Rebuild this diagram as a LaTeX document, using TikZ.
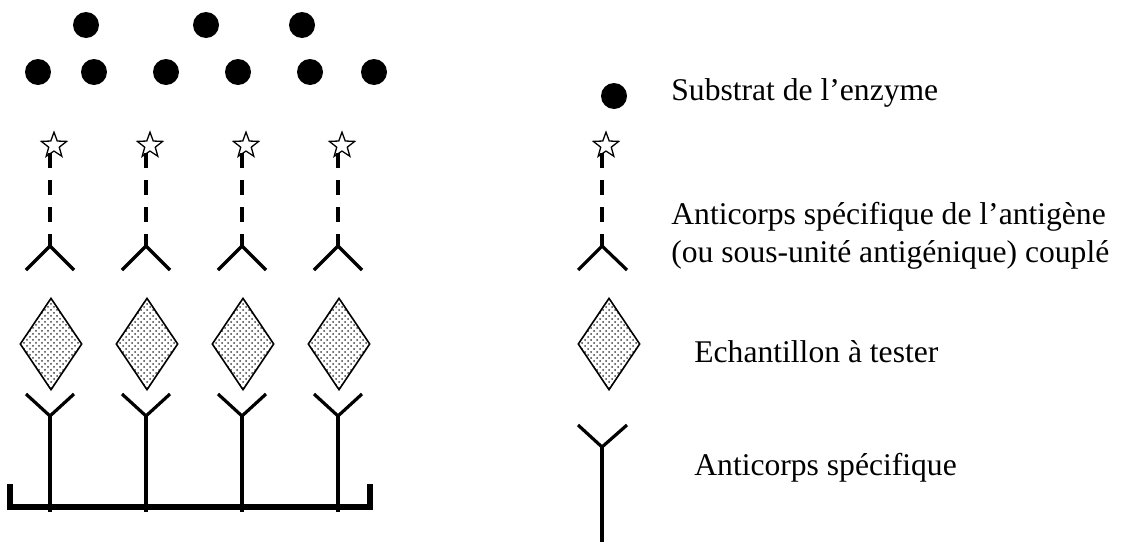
\documentclass[tikz,border=0pt]{standalone}
\usepackage{fontspec}
\setmainfont{Liberation Serif}
\usetikzlibrary{shapes.geometric,patterns}
\begin{document}
\begin{tikzpicture}[x=0.5pt,y=-0.5pt,
  substrat/.style={circle,fill=black,inner sep=0pt,minimum size=13pt},
  enz/.style={star,star points=5,star point ratio=2.4,draw=black,line width=0.65pt,fill=white,inner sep=0pt,minimum size=13.3pt},
  link/.style={line width=2pt,dash pattern=on 7.5pt off 6pt},
  arm/.style={line width=1.6pt},
  stem/.style={line width=2pt},
  ech/.style={diamond,draw=black,line width=0.8pt,pattern=crosshatch dots,pattern color=black!75,inner sep=0pt,minimum width=31pt,minimum height=46pt},
  lbl/.style={anchor=base west,inner sep=0pt,font=\fontsize{15.8pt}{18.5pt}\selectfont,align=left}]
\useasboundingbox (0,0) rectangle (1124,541);
% substrate
\foreach \n/\x/\y in {a/86/25,b/206/25,c/302/25,d/38/72,e/94/72,f/166/72,g/238/72,h/310/72,i/374/72}
  \node[substrat] (s\n) at (\x,\y) {};
% columns
\foreach \k/\x in {1/50,2/146,3/242,4/338}{
  \node[enz] (st\k) at (\x+4,145.5) {};
  \coordinate (lt\k) at (\x,153);
  \coordinate (ua\k) at (\x,246);
  \coordinate (ul\k) at (\x-24,270);
  \coordinate (ur\k) at (\x+24,270);
  \draw[link] (lt\k) -- (ua\k);
  \draw[arm] (ul\k) -- (ua\k) -- (ur\k);
  \node[ech] (d\k) at (\x+1,344) {};
  \coordinate (la\k) at (\x,416);
  \coordinate (ll\k) at (\x-24,394);
  \coordinate (lr\k) at (\x+24,394);
  \coordinate (lb\k) at (\x,512);
  \draw[arm] (ll\k) -- (la\k) -- (lr\k);
  \draw[stem] (la\k) -- (lb\k);
}
% plate
\coordinate (p1) at (10,484);
\coordinate (p2) at (10,507);
\coordinate (p3) at (370,507);
\coordinate (p4) at (370,484);
\draw[line width=2.8pt] (p1) -- (p2) -- (p3) -- (p4);
% legend
\node[substrat] (ls) at (614,96) {};
\node[lbl] (t1) at (671,100) {Substrat de l’enzyme};
\node[enz] (lst) at (606,145.5) {};
\coordinate (llt) at (602,153);
\coordinate (lua) at (602,246);
\coordinate (lul) at (578,270);
\coordinate (lur) at (627,270);
\draw[link] (llt) -- (lua);
\draw[arm] (lul) -- (lua) -- (lur);
\node[lbl] (t2) at (671,224) {Anticorps spécifique de l’antigène};
\node[lbl] (t2b) at (671,262) {(ou sous-unité antigénique) couplé};
\node[ech] (ld) at (609,344) {};
\node[lbl] (t3) at (694,362) {Echantillon à tester};
\coordinate (lla) at (602,447);
\coordinate (lll) at (578,425);
\coordinate (llr) at (627,425);
\coordinate (llb) at (602,545);
\draw[arm] (lll) -- (lla) -- (llr);
\draw[stem] (lla) -- (llb);
\node[lbl] (t4) at (694,475) {Anticorps spécifique};
\end{tikzpicture}
\end{document}
